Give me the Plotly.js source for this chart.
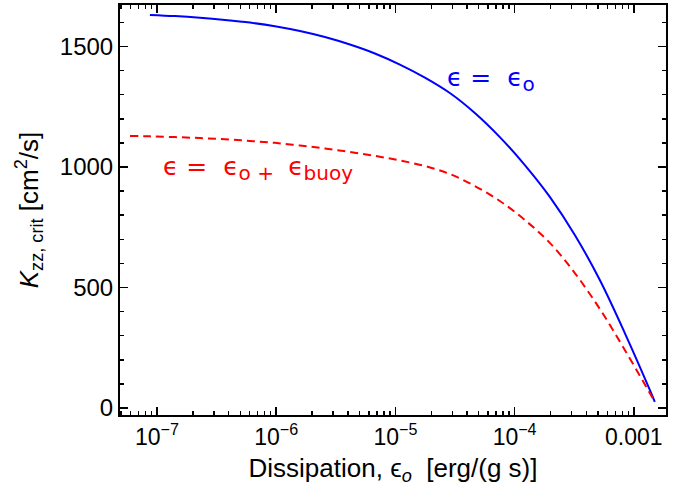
<!DOCTYPE html>
<html><head><meta charset="utf-8">
<script src="https://cdn.plot.ly/plotly-3.0.1.min.js"></script>
<style>body{margin:0;padding:0;background:#fff}#chart{width:678px;height:498px}</style>
</head><body><div id="chart"></div>
<script>
// Dissipation eps_o [erg/(g s)] vs K_zz,crit [cm^2/s]
const epsGrid = [8.73e-8, 1.415e-7, 2.294e-7, 3.717e-7, 6.024e-7, 9.761e-7, 1.582e-6, 2.563e-6, 4.154e-6, 6.730e-6, 1.091e-5, 1.768e-5, 2.864e-5, 4.641e-5, 7.520e-5, 1.219e-4, 1.975e-4, 3.200e-4, 5.186e-4, 8.405e-4, 1.362e-3];
const blueX = epsGrid.concat([1.50e-3]);
const blueY = [1631, 1626, 1619, 1610, 1599, 1584, 1564, 1539, 1508, 1471, 1425, 1371, 1307, 1224, 1124, 1008, 876, 718, 531, 311, 75, 25];
const redX = [5.94e-8].concat(epsGrid, [1.47e-3]);
const redY = [1129, 1127, 1124, 1120, 1115, 1108, 1100, 1089, 1077, 1062, 1046, 1027, 1004, 971, 921, 859, 780, 685, 560, 411, 241, 62, 33];
const xTickVals = [1e-7, 1e-6, 1e-5, 1e-4, 1e-3];
const xTickText = ["10<sup>−7</sup>", "10<sup>−6</sup>", "10<sup>−5</sup>", "10<sup>−4</sup>", "0.001"];
const yTickVals = [0, 500, 1000, 1500];
const sub = s => '<sub><span style="font-size:20px">' + s + '</span></sub>';
const blueLabel = "ϵ = \u00a0ϵ" + sub("o");
const redLabel = "ϵ = \u00a0ϵ" + sub("o + ") + "\u00a0ϵ" + sub("buoy");

const traces = [
  {x: blueX, y: blueY, mode: 'lines', line: {color: '#0000ff', width: 2, shape: 'spline', smoothing: 1, simplify: false}, showlegend: false},
  {x: redX, y: redY, mode: 'lines', line: {color: '#ff0000', width: 2, dash: '8px,5px', shape: 'spline', smoothing: 1, simplify: false}, showlegend: false}
];
const fam = 'Liberation Sans, Arial, sans-serif';
const layout = {
  width: 678, height: 498,
  margin: {l: 120, r: 12, t: 5, b: 83},
  paper_bgcolor: '#fff', plot_bgcolor: '#fff',
  font: {family: fam, color: '#000'},
  xaxis: {
    type: 'log', range: [-7.31, -2.73],
    tickvals: xTickVals, ticktext: xTickText,
    ticks: 'inside', ticklen: 8, tickwidth: 1.5, tickcolor: '#000',
    minor: {dtick: 'D1', ticks: 'inside', ticklen: 4, tickcolor: '#000', showgrid: false},
    showline: true, linecolor: '#000', linewidth: 2, mirror: 'allticks',
    showgrid: false, zeroline: false,
    tickfont: {size: 23, family: fam, color: '#000'},
    title: {text: 'Dissipation, ϵ<sub><i>o</i></sub>  [erg/(g s)]', font: {size: 26, family: fam, color: '#000'}, standoff: 10}
  },
  yaxis: {
    range: [-29, 1672],
    tickvals: yTickVals,
    ticks: 'inside', ticklen: 8, tickwidth: 1.5, tickcolor: '#000',
    minor: {dtick: 100, ticks: 'inside', ticklen: 4, tickcolor: '#000', showgrid: false},
    showline: true, linecolor: '#000', linewidth: 2, mirror: 'allticks',
    showgrid: false, zeroline: false,
    tickfont: {size: 24, family: fam, color: '#000'},
    title: {text: '<i>K</i><sub>zz, crit</sub> [cm<sup>2</sup>/s]', font: {size: 26, family: fam, color: '#000'}, standoff: 14}
  },
  annotations: [
    {x: -4.199, y: 1365, xref: 'x', yref: 'y', text: blueLabel, showarrow: false,
     font: {size: 25, family: 'DejaVu Sans, sans-serif', color: '#0000ff'}, xanchor: 'center', yanchor: 'middle'},
    {x: -6.15, y: 995, xref: 'x', yref: 'y', text: redLabel, showarrow: false,
     font: {size: 25, family: 'DejaVu Sans, sans-serif', color: '#ff0000'}, xanchor: 'center', yanchor: 'middle'}
  ]
};
Plotly.newPlot('chart', traces, layout, {staticPlot: true, displayModeBar: false});
</script></body></html>
